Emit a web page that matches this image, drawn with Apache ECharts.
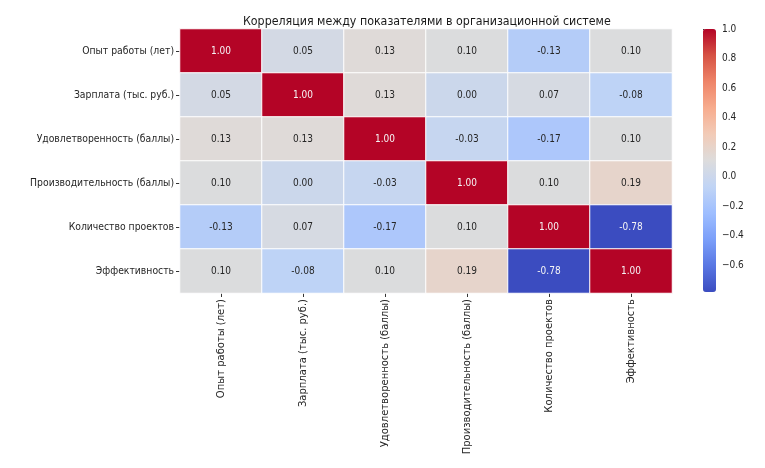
<!DOCTYPE html>
<html><head><meta charset="utf-8">
<script src="https://cdn.jsdelivr.net/npm/echarts@6/dist/echarts.min.js"></script>
<style>html,body{margin:0;padding:0;background:#fff}#c{width:765px;height:468px}</style>
</head><body><div id="c"></div>
<script>
const labels = ['Опыт работы (лет)','Зарплата (тыс. руб.)','Удовлетворенность (баллы)','Производительность (баллы)','Количество проектов','Эффективность'];
const row0 = [1.00, 0.05, 0.13, 0.10, -0.13, 0.10];
const row1 = [0.05, 1.00, 0.13, 0.00, 0.07, -0.08];
const row2 = [0.13, 0.13, 1.00, -0.03, -0.17, 0.10];
const row3 = [0.10, 0.00, -0.03, 1.00, 0.10, 0.19];
const row4 = [-0.13, 0.07, -0.17, 0.10, 1.00, -0.78];
const row5 = [0.10, -0.08, 0.10, 0.19, -0.78, 1.00];
const rows = [row0,row1,row2,row3,row4,row5];
const cbTicks = [-0.6,-0.4,-0.2,0.0,0.2,0.4,0.6,0.8,1.0];
const vmin = -0.78, vmax = 1.0;
const coolwarm = ['#3b4cc0','#5977e3','#7b9ff9','#9ebeff','#c0d4f5','#dddcdc','#f2cbb7','#f7ac8e','#ee8468','#d65244','#b40426'];
const FONT = '"DejaVu Sans Condensed","DejaVu Sans",sans-serif';
const FONT_REG = '"DejaVu Sans",sans-serif';

const data = [];
rows.forEach((r, i) => r.forEach((v, j) => {
  data.push({value: [j, i, v], label: {color: Math.abs(v) > 0.5 ? '#f5f5f5' : '#262626'}});
}));

const chart = echarts.init(document.getElementById('c'));
chart.setOption({
  animation: false,
  textStyle: {fontFamily: FONT},
  title: {text: 'Корреляция между показателями в организационной системе', left: 238, top: 11,
    textStyle: {fontFamily: FONT, fontSize: 12.3, fontWeight: 'normal', color: '#1a1a1a'}},
  grid: [
    {left: 180, top: 29, width: 492, height: 264},
    {left: 703, top: 29, width: 13, height: 263}
  ],
  xAxis: [
    {type: 'category', data: labels, gridIndex: 0, position: 'bottom',
      axisLine: {show: false}, splitLine: {show: false},
      axisTick: {show: true, alignWithLabel: true, length: 4, lineStyle: {color: '#333'}},
      axisLabel: {rotate: 90, fontSize: 10, color: '#262626', margin: 6, fontFamily: FONT_REG}},
    {type: 'value', gridIndex: 1, show: false, min: 0, max: 1}
  ],
  yAxis: [
    {type: 'category', data: labels, gridIndex: 0, inverse: true,
      axisLine: {show: false}, splitLine: {show: false},
      axisTick: {show: true, alignWithLabel: true, length: 4, lineStyle: {color: '#333'}},
      axisLabel: {fontSize: 10.3, color: '#262626', margin: 6, fontFamily: FONT}},
    {type: 'value', gridIndex: 1, min: vmin, max: vmax, position: 'right',
      axisLine: {show: false}, splitLine: {show: false},
      axisTick: {show: true, length: 4, customValues: cbTicks, lineStyle: {color: '#333'}},
      axisLabel: {customValues: cbTicks, fontSize: 10, color: '#262626', margin: 6, fontFamily: FONT,
        formatter: v => (v < 0 ? '\u2212' : '') + Math.abs(v).toFixed(1)}}
  ],
  visualMap: {
    type: 'continuous', min: vmin, max: vmax, calculable: false, seriesIndex: 0,
    orient: 'vertical', left: 703, top: 29, itemWidth: 13, itemHeight: 263, padding: 0,
    text: null, showLabel: false, hoverLink: false,
    inRange: {color: coolwarm}
  },
  series: [{
    type: 'heatmap', xAxisIndex: 0, yAxisIndex: 0, data: data,
    itemStyle: {borderColor: '#ffffff', borderWidth: 1},
    label: {show: true, fontSize: 10, fontFamily: FONT, formatter: p => p.value[2].toFixed(2)},
    emphasis: {disabled: true}
  }]
});
</script></body></html>
